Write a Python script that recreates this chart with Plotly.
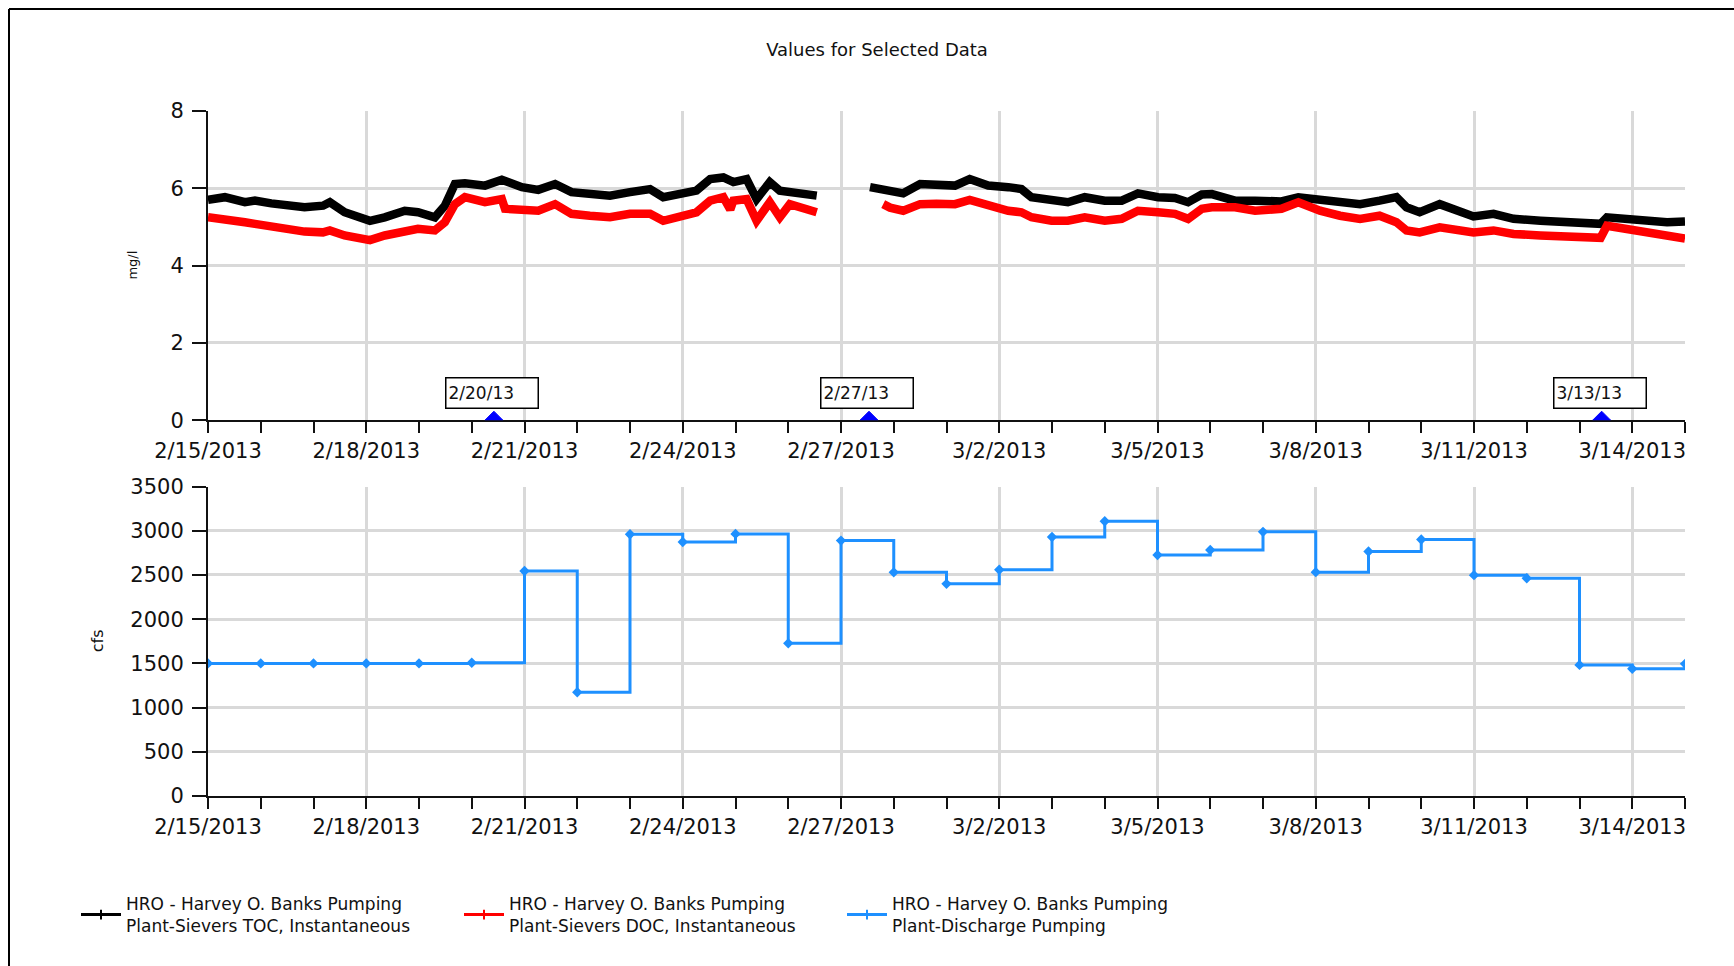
import pandas as pd
import plotly.graph_objects as go

BASE = pd.Timestamp("2013-02-15")

# ---- data (x = days since 2/15/2013 00:00) ----
toc_days = [0.0, 0.32, 0.70, 0.89, 1.2, 1.58, 1.83, 2.18, 2.31, 2.59, 2.85, 3.07, 3.35, 3.73,
            3.98, 4.3, 4.49, 4.68, 4.87, 5.25, 5.57, 5.95, 6.26, 6.58, 6.89, 7.24, 7.62, 8.0,
            8.38, 8.63, 8.95, 9.26, 9.52, 9.77, 9.96, 10.21, 10.40, 10.65, 10.84, 11.03, 11.28,
            11.54, 12.0, 12.55, 12.93, 13.18, 13.5, 13.81, 14.16, 14.44, 14.79, 15.17, 15.42,
            15.61, 15.99, 16.3, 16.62, 17.0, 17.32, 17.63, 18.01, 18.33, 18.58, 18.84, 19.03,
            19.47, 19.85, 20.35, 20.67, 21.08, 21.46, 21.84, 22.21, 22.53, 22.72, 22.97, 23.35,
            23.67, 23.99, 24.37, 24.75, 25.26, 25.76, 26.14, 26.40, 26.52, 26.90, 27.34, 27.66,
            28.0]
toc_vals = [5.70, 5.77, 5.64, 5.68, 5.61, 5.55, 5.51, 5.55, 5.64, 5.38, 5.29, 5.16, 5.25, 5.42,
            5.38, 5.25, 5.55, 6.11, 6.13, 6.07, 6.22, 6.03, 5.96, 6.11, 5.90, 5.87, 5.81, 5.90,
            5.98, 5.77, 5.85, 5.94, 6.24, 6.28, 6.16, 6.24, 5.72, 6.16, 5.94, 5.90, 5.87,
            5.81, None, 6.03, 5.94, 5.87, 6.11, 6.10, 6.07, 6.24, 6.07, 6.03, 5.98,
            5.77, 5.70, 5.64, 5.77, 5.68, 5.68, 5.87, 5.77, 5.75, 5.64, 5.84, 5.85,
            5.68, 5.68, 5.66, 5.77, 5.72, 5.68, 5.59, 5.68, 5.77, 5.51, 5.38, 5.59,
            5.42, 5.27, 5.34, 5.21, 5.16, 5.12, 5.09, 5.08, 5.25, 5.21, 5.16, 5.12,
            5.14]

doc_days = [0.0, 0.32, 0.70, 0.89, 1.2, 1.58, 1.83, 2.18, 2.31, 2.59, 2.85, 3.07, 3.35, 3.73,
            3.98, 4.3, 4.49, 4.68, 4.87, 5.25, 5.57, 5.63, 5.95, 6.26, 6.58, 6.89, 7.24, 7.62,
            8.0, 8.38, 8.63, 8.95, 9.26, 9.52, 9.77, 9.90, 9.96, 10.21, 10.40, 10.65, 10.84,
            11.03, 11.28, 11.54, 12.2, 12.80, 12.93, 13.18, 13.5, 13.81, 14.16, 14.44, 14.79,
            15.17, 15.42, 15.61, 15.99, 16.3, 16.62, 17.0, 17.32, 17.63, 18.01, 18.33, 18.58,
            18.84, 19.03, 19.47, 19.85, 20.35, 20.67, 21.08, 21.46, 21.84, 22.21, 22.53, 22.72,
            22.97, 23.35, 23.67, 23.99, 24.37, 24.75, 25.26, 25.76, 26.14, 26.40, 26.52, 26.90,
            27.34, 27.66, 28.0]
doc_vals = [5.25, 5.21, 5.12, 5.08, 5.01, 4.92, 4.88, 4.86, 4.91, 4.78, 4.69, 4.66, 4.78, 4.86,
            4.95, 4.91, 5.12, 5.59, 5.77, 5.64, 5.72, 5.47, 5.42, 5.42, 5.59, 5.34, 5.29, 5.25,
            5.34, 5.34, 5.16, 5.25, 5.38, 5.68, 5.77, 5.45, 5.68, 5.72, 5.16, 5.64, 5.25,
            5.59, 5.47, 5.38, None, 5.59, 5.50, 5.42, 5.59, 5.60, 5.59, 5.70, 5.55,
            5.42, 5.38, 5.25, 5.16, 5.16, 5.25, 5.16, 5.21, 5.42, 5.38, 5.34, 5.21,
            5.47, 5.51, 5.51, 5.42, 5.47, 5.64, 5.42, 5.29, 5.21, 5.29, 5.12, 4.91,
            4.86, 4.99, 4.95, 4.86, 4.91, 4.82, 4.78, 4.75, 4.72, 4.72, 5.03, 4.95,
            4.82, 4.74, 4.70]

flow_dates = ["2013-02-15", "2013-02-16", "2013-02-17", "2013-02-18", "2013-02-19", "2013-02-20",
              "2013-02-21", "2013-02-22", "2013-02-23", "2013-02-24", "2013-02-25", "2013-02-26",
              "2013-02-27", "2013-02-28", "2013-03-01", "2013-03-02", "2013-03-03", "2013-03-04",
              "2013-03-05", "2013-03-06", "2013-03-07", "2013-03-08", "2013-03-09", "2013-03-10",
              "2013-03-11", "2013-03-12", "2013-03-13", "2013-03-14", "2013-03-15"]
flow_vals = [1500, 1500, 1500, 1500, 1500, 1508, 2545, 1173, 2961, 2874, 2965, 1727,
             2889, 2530, 2400, 2560, 2930, 3108, 2727, 2782, 2988, 2532, 2765, 2902,
             2498, 2463, 1483, 1440, 1495]

flag_dates = ["2013-02-20 10:05", "2013-02-27 12:45", "2013-03-13 10:05"]
flag_labels = ["2/20/13", "2/27/13", "3/13/13"]

title_text = "Values for Selected Data"
series_names = ["HRO - Harvey O. Banks Pumping<br>Plant-Sievers TOC, Instantaneous",
                "HRO - Harvey O. Banks Pumping<br>Plant-Sievers DOC, Instantaneous",
                "HRO - Harvey O. Banks Pumping<br>Plant-Discharge Pumping"]
series_colors = ["#000000", "#ff0000", "#1e90ff"]


def to_dates(days):
    return [BASE + pd.Timedelta(days=d) for d in days]


FONT = "DejaVu Sans"
fig = go.Figure()

fig.add_trace(go.Scatter(x=to_dates(toc_days), y=toc_vals, mode="lines",
                         line=dict(color=series_colors[0], width=8.5), connectgaps=False,
                         showlegend=False, xaxis="x", yaxis="y"))
fig.add_trace(go.Scatter(x=to_dates(doc_days), y=doc_vals, mode="lines",
                         line=dict(color=series_colors[1], width=8.5), connectgaps=False,
                         showlegend=False, xaxis="x", yaxis="y"))
fig.add_trace(go.Scatter(x=flow_dates, y=flow_vals, mode="lines+markers",
                         line=dict(color=series_colors[2], width=3, shape="hv"),
                         marker=dict(symbol="diamond", size=8, color=series_colors[2]),
                         showlegend=False, xaxis="x2", yaxis="y2"))

# legend entries
for name, col in zip(series_names, series_colors):
    fig.add_trace(go.Scatter(x=[None], y=[None], mode="lines+markers", name=name,
                             line=dict(color=col, width=3),
                             marker=dict(symbol="line-ns-open", size=7,
                                         line=dict(color=col, width=2)),
                             xaxis="x2", yaxis="y2"))

# flag markers and boxes
shapes = []
annotations = []
for d, lab in zip(flag_dates, flag_labels):
    shapes.append(dict(type="path", xref="x", yref="y", xsizemode="pixel", ysizemode="pixel",
                       xanchor=d, yanchor=0, path="M-9,0 L9,0 L0,9 Z",
                       fillcolor="#0000ff", line=dict(color="#0000ff", width=1)))
    annotations.append(dict(x=d, y=0, xref="x", yref="y", text=lab, showarrow=False,
                            xshift=-2, yshift=27, width=87, height=25, align="left",
                            bgcolor="white", bordercolor="#000", borderwidth=1.5, borderpad=2,
                            font=dict(family=FONT, size=17, color="#111")))

# outer frame: left and top border lines
frame_x = (9 - 208) / 1477
frame_y = (796 - 9) / 685
shapes.append(dict(type="line", xref="paper", yref="paper", x0=frame_x, x1=frame_x,
                   y0=-0.4, y1=frame_y, line=dict(color="#000", width=2), layer="below"))
shapes.append(dict(type="line", xref="paper", yref="paper", x0=frame_x, x1=1.2,
                   y0=frame_y, y1=frame_y, line=dict(color="#000", width=2), layer="below"))

annotations.append(dict(text="mg/l", xref="paper", yref="y domain", x=0, y=0.5, xshift=-75,
                        textangle=-90, showarrow=False, xanchor="center", yanchor="middle",
                        font=dict(family=FONT, size=13, color="#111")))
annotations.append(dict(text="cfs", xref="paper", yref="y2 domain", x=0, y=0.5, xshift=-111,
                        textangle=-90, showarrow=False, xanchor="center", yanchor="middle",
                        font=dict(family=FONT, size=16, color="#111")))

DAY = 86400000
xcommon = dict(type="date", range=["2013-02-15", "2013-03-15"], tick0="2013-02-15",
               dtick=3 * DAY, tickformat="%-m/%-d/%Y", ticks="outside", ticklen=11,
               tickwidth=2, tickcolor="#111", showline=True, linecolor="#111", linewidth=2,
               showgrid=True, gridcolor="#d9d9d9", gridwidth=2.5, zeroline=False,
               tickfont=dict(family=FONT, size=21, color="#111"),
               minor=dict(tick0="2013-02-15", dtick=DAY, ticks="outside", ticklen=11,
                          tickwidth=2, tickcolor="#111", showgrid=False))
ycommon = dict(ticks="outside", ticklen=14, tickwidth=2, tickcolor="#111", showline=True,
               linecolor="#111", linewidth=2, showgrid=True, gridcolor="#d9d9d9",
               gridwidth=2.5, zeroline=False, tickformat="d", ticklabelstandoff=4,
               tickfont=dict(family=FONT, size=21, color="#111"))

fig.update_layout(
    width=1734, height=966,
    margin=dict(l=208, r=49, t=111, b=170),
    paper_bgcolor="white", plot_bgcolor="white",
    title=dict(text=title_text, x=877 / 1734, xanchor="center", y=1 - 50 / 966,
               yanchor="middle", yref="container",
               font=dict(family=FONT, size=18, color="#111")),
    xaxis=dict(domain=[0, 1], anchor="y", **xcommon),
    yaxis=dict(domain=[0.5486, 1], anchor="x", range=[0, 8], dtick=2, **ycommon),
    xaxis2=dict(domain=[0, 1], anchor="y2", **xcommon),
    yaxis2=dict(domain=[0, 0.4517], anchor="x2", range=[0, 3500], dtick=500, **ycommon),
    showlegend=True,
    legend=dict(orientation="h", x=(76 - 208) / 1477, xanchor="left", y=(796 - 886) / 685,
                yanchor="top", entrywidth=328, entrywidthmode="pixels", itemwidth=40,
                font=dict(family=FONT, size=17, color="#111"), bgcolor="rgba(0,0,0,0)",
                valign="middle"),
    shapes=shapes,
    annotations=annotations,
)

fig.write_html("out.html", config={"displayModeBar": False},
               post_script="document.body.style.margin='0';document.body.style.padding='0';")
